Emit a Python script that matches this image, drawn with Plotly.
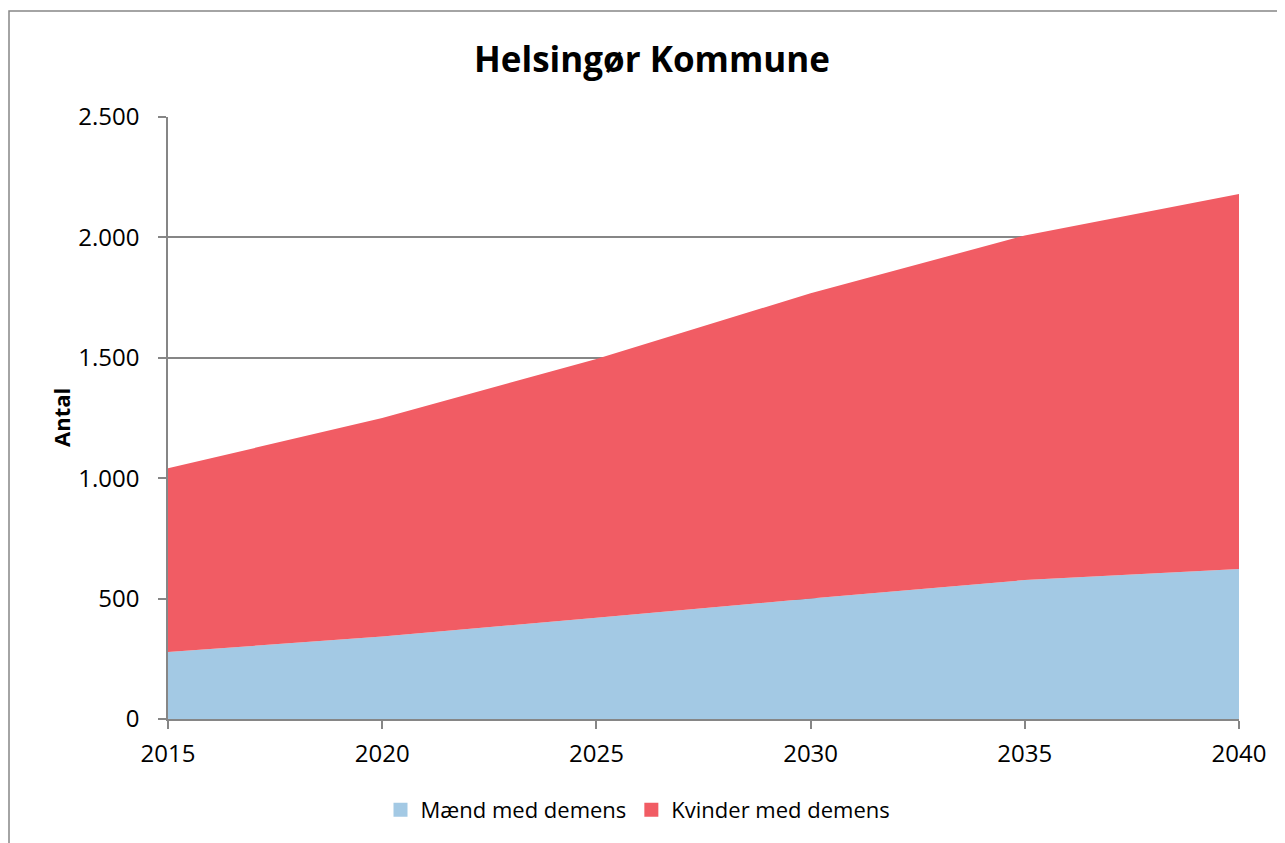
import plotly.graph_objects as go

years = [2015, 2020, 2025, 2030, 2035, 2040]
maend = [278, 343, 420, 500, 577, 623]
kvinder = [763, 907, 1075, 1268, 1431, 1557]

series_names = ["Mænd med demens", "Kvinder med demens"]
colors = ["#A3C9E4", "#F15C64"]

# page body has an 8px margin; work in screen coordinates and shift
OFF = 8
W, H = 1285 - OFF, 843 - OFF
L, R, T, B = 168 - OFF, 1239 - OFF, 117 - OFF, 719 - OFF
pw, ph = R - L, B - T

fig = go.Figure()
for name, vals, col in zip(series_names, [maend, kvinder], colors):
    fig.add_trace(go.Scatter(
        x=years, y=vals, name=name, stackgroup="one", mode="none",
        fillcolor=col, line=dict(width=0), showlegend=False,
        hoverinfo="x+y+name"))
for name, col in zip(series_names, colors):
    fig.add_trace(go.Scatter(
        x=[None], y=[None], name=name, mode="markers",
        marker=dict(symbol="square", size=14, color=col), showlegend=True))

axcol = "#868686"
fig.update_layout(
    width=W, height=H,
    margin=dict(l=L, r=W - R, t=T, b=H - B, pad=0),
    paper_bgcolor="white", plot_bgcolor="white",
    separators=",.",
    font=dict(family="Open Sans", size=22, color="black"),
    title=dict(text="<b>Helsingør Kommune</b>", x=(652 - OFF) / W, xanchor="center",
               y=1 - (60 - OFF) / H, yanchor="middle",
               font=dict(family="Open Sans", size=35, color="black")),
    xaxis=dict(range=[2015, 2040], tickvals=years, ticktext=[str(y) for y in years],
               showgrid=False, zeroline=False, showline=True, linecolor=axcol,
               linewidth=1.5, ticks="outside", ticklen=8, tickcolor=axcol,
               tickwidth=1.5, ticklabelstandoff=4, tickfont=dict(size=24)),
    yaxis=dict(range=[0, 2500], dtick=500, tickformat=",d",
               showgrid=True, gridcolor=axcol, gridwidth=1.5, zeroline=False,
               showline=True, linecolor=axcol, linewidth=1.5,
               ticks="outside", ticklen=8, tickcolor=axcol, tickwidth=1.5,
               ticklabelstandoff=14, tickfont=dict(size=24)),
    legend=dict(orientation="h", x=(638 - 168) / pw, xanchor="center",
                y=(719 - 810) / ph, yanchor="middle", traceorder="normal",
                font=dict(size=22), itemwidth=30, bgcolor="rgba(0,0,0,0)"),
    showlegend=True,
)

fig.add_annotation(text="<b>Antal</b>", textangle=-90, xref="paper", yref="paper",
                   x=(61 - 168) / pw, y=(719 - 418) / ph, xanchor="center", yanchor="middle",
                   showarrow=False, font=dict(size=22, family="Open Sans"))

# outer chart border
fig.add_shape(type="rect", xref="paper", yref="paper",
              x0=(9 - 168) / pw, y0=(719 - 900) / ph, x1=(1300 - 168) / pw, y1=(719 - 11) / ph,
              line=dict(color=axcol, width=1.5), fillcolor="rgba(0,0,0,0)", layer="below")

fig.write_html("out.html")
